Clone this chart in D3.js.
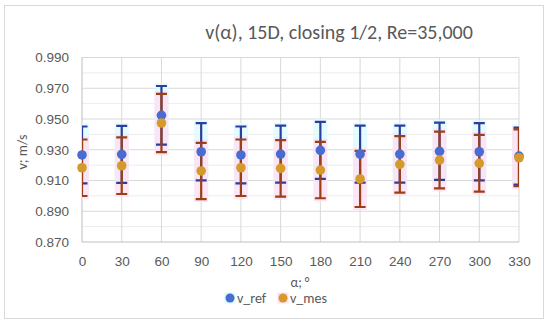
<!DOCTYPE html>
<html>
<head>
<meta charset="utf-8">
<script src="https://cdn.jsdelivr.net/npm/d3@7"></script>
<style>
  body { margin: 0; background: #fff; }
  svg { display: block; font-family: Carlito, Lato, "Open Sans", sans-serif; }
</style>
</head>
<body>
<svg id="chart"></svg>
<script>
// angle of the probe, degrees
const angles = [0, 30, 60, 90, 120, 150, 180, 210, 240, 270, 300, 330];
// reference velocity, m/s
const vRef = [0.9266, 0.9270, 0.9524, 0.9287, 0.9266, 0.9272, 0.9296, 0.9272, 0.9272, 0.9290, 0.9287, 0.9259];
// measured velocity, m/s
const vMes = [0.9183, 0.9196, 0.9474, 0.9162, 0.9183, 0.9179, 0.9168, 0.9110, 0.9205, 0.9233, 0.9212, 0.9248];
const errPercent = 2; // percentage error bars, as set in the sheet
const yTicks = [0.870, 0.890, 0.910, 0.930, 0.950, 0.970, 0.990];

const width = 550, height = 324;
const marginLeft = 82, marginRight = 31, marginTop = 57.5, marginBottom = 82;

const svg = d3.select("#chart")
    .attr("width", width)
    .attr("height", height)
    .attr("viewBox", [0, 0, width, height]);

// outer chart border
svg.append("rect")
    .attr("x", 4.5).attr("y", 5.5)
    .attr("width", 539).attr("height", 313)
    .attr("fill", "#fff")
    .attr("stroke", "#d9d9d9");

const x = d3.scaleLinear([0, 330], [marginLeft, width - marginRight]);
const y = d3.scaleLinear([0.87, 0.99], [height - marginBottom, marginTop]);

// minor gridlines
svg.append("g")
  .selectAll("line")
  .data(d3.range(0.88, 0.99, 0.02))
  .join("line")
    .attr("x1", x(0)).attr("x2", x(330))
    .attr("y1", d => y(d)).attr("y2", d => y(d))
    .attr("stroke", "#ececec");

// major gridlines, horizontal
svg.append("g")
  .selectAll("line")
  .data(yTicks.slice(1))
  .join("line")
    .attr("x1", x(0)).attr("x2", x(330))
    .attr("y1", d => y(d)).attr("y2", d => y(d))
    .attr("stroke", "#d9d9d9");

// vertical gridlines
svg.append("g")
  .selectAll("line")
  .data(angles.slice(1))
  .join("line")
    .attr("x1", d => x(d)).attr("x2", d => x(d))
    .attr("y1", y(0.87)).attr("y2", y(0.99))
    .attr("stroke", "#d9d9d9");

// axis lines
svg.append("line")
    .attr("x1", x(0)).attr("x2", x(330))
    .attr("y1", y(0.87)).attr("y2", y(0.87))
    .attr("stroke", "#bfbfbf");
svg.append("line")
    .attr("x1", x(0)).attr("x2", x(0))
    .attr("y1", y(0.87)).attr("y2", y(0.99))
    .attr("stroke", "#bfbfbf");

// tick labels
const yAxis = d3.axisLeft(y).tickValues(yTicks).tickFormat(d3.format(".3f")).tickSize(0).tickPadding(13);
svg.append("g")
    .attr("transform", `translate(${marginLeft},0)`)
    .call(yAxis)
    .call(g => g.select(".domain").remove())
    .call(g => g.selectAll("text").attr("fill", "#595959").attr("font-size", 13.5).attr("font-family", null));

const xAxis = d3.axisBottom(x).tickValues(angles).tickSize(0).tickPadding(14);
svg.append("g")
    .attr("transform", `translate(0,${y(0.87)})`)
    .call(xAxis)
    .call(g => g.select(".domain").remove())
    .call(g => g.selectAll("text").attr("fill", "#595959").attr("font-size", 13.5).attr("font-family", null));

// clip to the plot area (caps at 0 and 330 are cut in half)
svg.append("clipPath").attr("id", "plot")
  .append("rect")
    .attr("x", x(0)).attr("y", y(0.99))
    .attr("width", x(330) - x(0)).attr("height", y(0.87) - y(0.99));

const plot = svg.append("g").attr("clip-path", "url(#plot)");
const cap = 5.5;

const series = [
  {name: "v_ref", values: vRef, bar: "#2f3c9c", dot: "#4a6bd0", glow: "#dcfbff"},
  {name: "v_mes", values: vMes, bar: "#9c3f16", dot: "#d49a2c", glow: "#fde0f2"}
];

// glow behind the error bars
series.forEach(s => {
  plot.append("g")
    .selectAll("rect")
    .data(angles)
    .join("rect")
      .attr("x", d => x(d) - 7)
      .attr("y", (d, i) => y(s.values[i] * (1 + errPercent / 100)) - 3)
      .attr("width", 14)
      .attr("height", (d, i) => y(s.values[i] * (1 - errPercent / 100)) - y(s.values[i] * (1 + errPercent / 100)) + 6)
      .attr("fill", s.glow)
      .attr("opacity", 0.8);
});

// error bars
series.forEach(s => {
  const g = plot.append("g")
      .attr("stroke", s.bar)
      .attr("stroke-width", 2.2);
  angles.forEach((a, i) => {
    const hi = y(s.values[i] * (1 + errPercent / 100));
    const lo = y(s.values[i] * (1 - errPercent / 100));
    g.append("line").attr("x1", x(a)).attr("x2", x(a)).attr("y1", hi).attr("y2", lo);
    g.append("line").attr("x1", x(a) - cap).attr("x2", x(a) + cap).attr("y1", hi).attr("y2", hi);
    g.append("line").attr("x1", x(a) - cap).attr("x2", x(a) + cap).attr("y1", lo).attr("y2", lo);
  });
});

// markers
series.forEach(s => {
  svg.append("g")
    .selectAll("circle")
    .data(angles)
    .join("circle")
      .attr("cx", d => x(d))
      .attr("cy", (d, i) => y(s.values[i]))
      .attr("r", 4.8)
      .attr("fill", s.dot);
});

// title
svg.append("text")
    .attr("x", 339).attr("y", 39)
    .attr("text-anchor", "middle")
    .attr("fill", "#595959")
    .attr("font-size", 20)
    .text("v(α), 15D, closing 1/2, Re=35,000");

// axis titles
svg.append("text")
    .attr("transform", "translate(27,152) rotate(-90)")
    .attr("text-anchor", "middle")
    .attr("fill", "#595959")
    .attr("font-size", 14)
    .text("v; m/s");

svg.append("text")
    .attr("x", 300).attr("y", 287)
    .attr("text-anchor", "middle")
    .attr("fill", "#595959")
    .attr("font-size", 13.5)
    .text("α; °");

// legend
const legend = svg.append("g")
  .selectAll("g")
  .data(series)
  .join("g")
    .attr("transform", (d, i) => `translate(${[230, 283][i]},298)`);
legend.append("rect")
    .attr("x", -5.5).attr("y", -5.5).attr("width", 11).attr("height", 11)
    .attr("fill", d => d.glow);
legend.append("circle")
    .attr("r", 4.5)
    .attr("fill", d => d.dot);
legend.append("text")
    .attr("x", 7).attr("y", 5)
    .attr("fill", "#595959")
    .attr("font-size", 14)
    .text(d => d.name);
</script>
</body>
</html>
